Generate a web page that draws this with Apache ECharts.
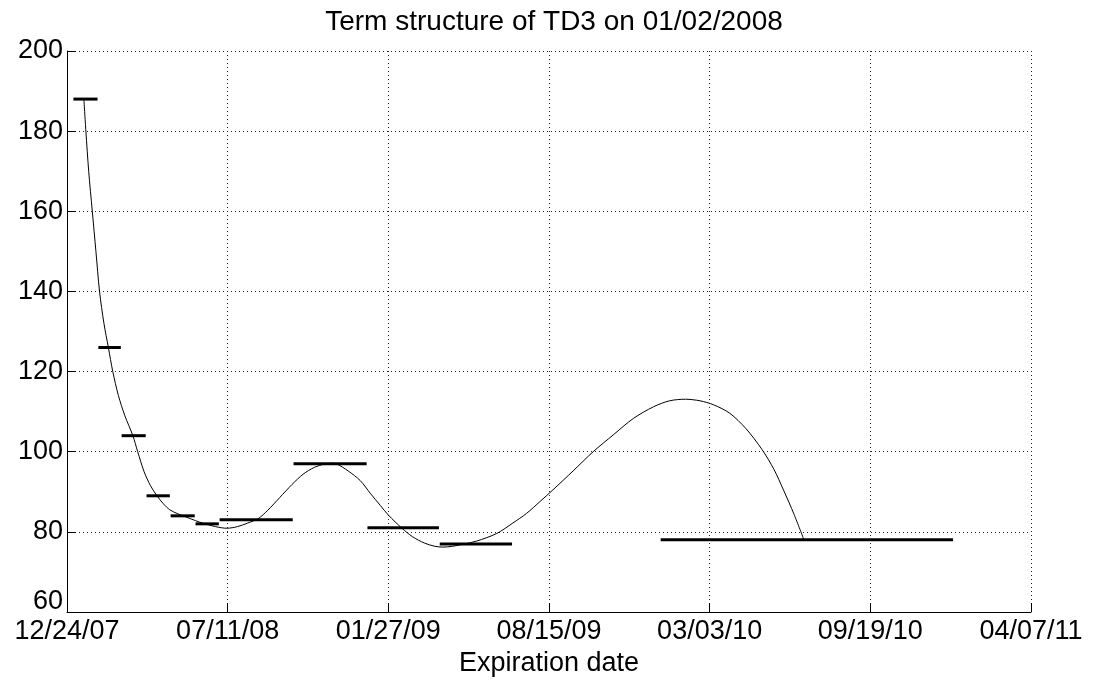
<!DOCTYPE html>
<html>
<head>
<meta charset="utf-8">
<title>Term structure of TD3</title>
<script src="https://cdn.jsdelivr.net/npm/echarts@6/dist/echarts.min.js"></script>
<style>
  html, body { margin: 0; padding: 0; background: #fff; }
  #chart { width: 1094px; height: 682px; }
</style>
</head>
<body>
<div id="chart"></div>
<script>
// Axis origin and tick spacing (days)
const axisOrigin = '2007-12-24';
const tickStepDays = 200;
const axisSpanDays = 1200;

// Traded contracts: delivery period and settlement price
const contractStart = ['2008-01-01', '2008-02-01', '2008-03-01', '2008-04-01', '2008-05-01', '2008-06-01',
                       '2008-07-01', '2008-10-01', '2009-01-01', '2009-04-01', '2010-01-01'];
const contractEnd   = ['2008-01-31', '2008-02-29', '2008-03-31', '2008-04-30', '2008-05-31', '2008-06-30',
                       '2008-09-30', '2008-12-31', '2009-03-31', '2009-06-30', '2010-12-31'];
const contractPrice = [188, 126, 104, 89, 84, 82, 83, 97, 81, 77, 78];

// Fitted forward curve: days after the axis origin, and level
const curveDay = [21, 23.5, 27, 31.5, 36, 40.5, 46, 51.5, 57, 64, 72, 82, 88, 96, 104, 112, 120, 128, 138, 147,
                  160, 170, 185, 199, 212, 225, 238, 250, 265, 280, 294, 308, 320, 328, 336, 350, 365, 378, 390, 400,
                  417, 430, 445, 458, 468, 480, 495, 510, 535, 555, 572, 589, 605, 630, 655, 680, 705, 730, 750, 770,
                  788, 805, 825, 845, 865, 880, 892, 905, 917];
const curveValue = [188, 180, 170, 160, 150, 140, 132, 126, 120, 114, 109, 104, 100, 95, 91.5, 89, 87, 85.5, 84.5, 83.8,
                    82.8, 82.1, 81.3, 80.9, 81.3, 82.2, 83.3, 85.4, 88.6, 91.8, 94.4, 96.1, 96.9, 97.1, 96.9, 95.2, 92.8, 89.5, 86.6, 84.2,
                    80.9, 78.8, 77.2, 76.4, 76.2, 76.4, 77, 77.7, 79.6, 82.2, 84.6, 87.6, 90.5, 95.2, 100, 104.2, 108.3, 111.2, 112.7, 113.1,
                    112.7, 111.7, 109.6, 105.8, 100.6, 95.6, 90.4, 84.4, 78.2];

const DAY_MS = 86400000;
const originMs = Date.parse(axisOrigin + 'T00:00:00Z');
const toDay = s => (Date.parse(s + 'T00:00:00Z') - originMs) / DAY_MS;
const pad2 = n => String(n).padStart(2, '0');
function dayLabel(d) {
  const t = new Date(originMs + Math.round(d) * DAY_MS);
  return pad2(t.getUTCMonth() + 1) + '/' + pad2(t.getUTCDate()) + '/' + pad2(t.getUTCFullYear() % 100);
}

const contractData = contractPrice.map((p, i) => [toDay(contractStart[i]), toDay(contractEnd[i]), p]);
const curveData = curveDay.map((d, i) => [d, curveValue[i]]);

const FONT = "'Liberation Sans', Arial, Helvetica, sans-serif";
const gridLine = { show: true, lineStyle: { color: '#222', width: 1, type: [1, 3] } };

const chart = echarts.init(document.getElementById('chart'), null, { renderer: 'canvas' });
chart.setOption({
  backgroundColor: '#fff',
  animation: false,
  title: {
    text: 'Term structure of TD3 on 01/02/2008',
    left: 549, top: 3, textAlign: 'center',
    textStyle: { fontFamily: FONT, fontSize: 28, fontWeight: 'normal', color: '#000' }
  },
  grid: { left: 67, right: 63, top: 51, bottom: 70, containLabel: false },
  xAxis: {
    type: 'value',
    min: 0, max: axisSpanDays, interval: tickStepDays,
    name: 'Expiration date', nameLocation: 'middle', nameGap: 31,
    nameTextStyle: { fontFamily: FONT, fontSize: 27, color: '#000' },
    axisLine: { show: true, onZero: false, lineStyle: { color: '#000', width: 1 } },
    axisTick: { show: true, inside: true, length: 9, lineStyle: { color: '#000' } },
    axisLabel: { formatter: v => dayLabel(v), fontFamily: FONT, fontSize: 27, color: '#000', margin: 6,
                 showMinLabel: true, showMaxLabel: true, hideOverlap: false },
    splitLine: gridLine
  },
  yAxis: {
    type: 'value',
    min: 60, max: 200, interval: 20,
    axisLine: { show: true, onZero: false, lineStyle: { color: '#000', width: 1 } },
    axisTick: { show: true, inside: true, length: 9, lineStyle: { color: '#000' } },
    axisLabel: {
      fontFamily: FONT, fontSize: 27, color: '#000', margin: 4,
      formatter: v => (v === 60 ? '{lo|60}' : String(v)),
      rich: { lo: { fontFamily: FONT, fontSize: 27, color: '#000', padding: [0, 0, 20, 0] } }
    },
    splitLine: gridLine
  },
  series: [
    {
      name: 'curve',
      type: 'line',
      data: curveData,
      smooth: 0.3,
      showSymbol: false,
      lineStyle: { color: '#000', width: 1 },
      z: 3
    },
    {
      name: 'contracts',
      type: 'custom',
      data: contractData,
      encode: { x: [0, 1], y: 2 },
      renderItem: (params, api) => {
        const a = api.coord([api.value(0), api.value(2)]);
        const b = api.coord([api.value(1), api.value(2)]);
        return { type: 'line', shape: { x1: a[0], y1: a[1], x2: b[0], y2: b[1] },
                 style: { stroke: '#000', lineWidth: 3 } };
      },
      z: 4
    }
  ]
});
</script>
</body>
</html>
